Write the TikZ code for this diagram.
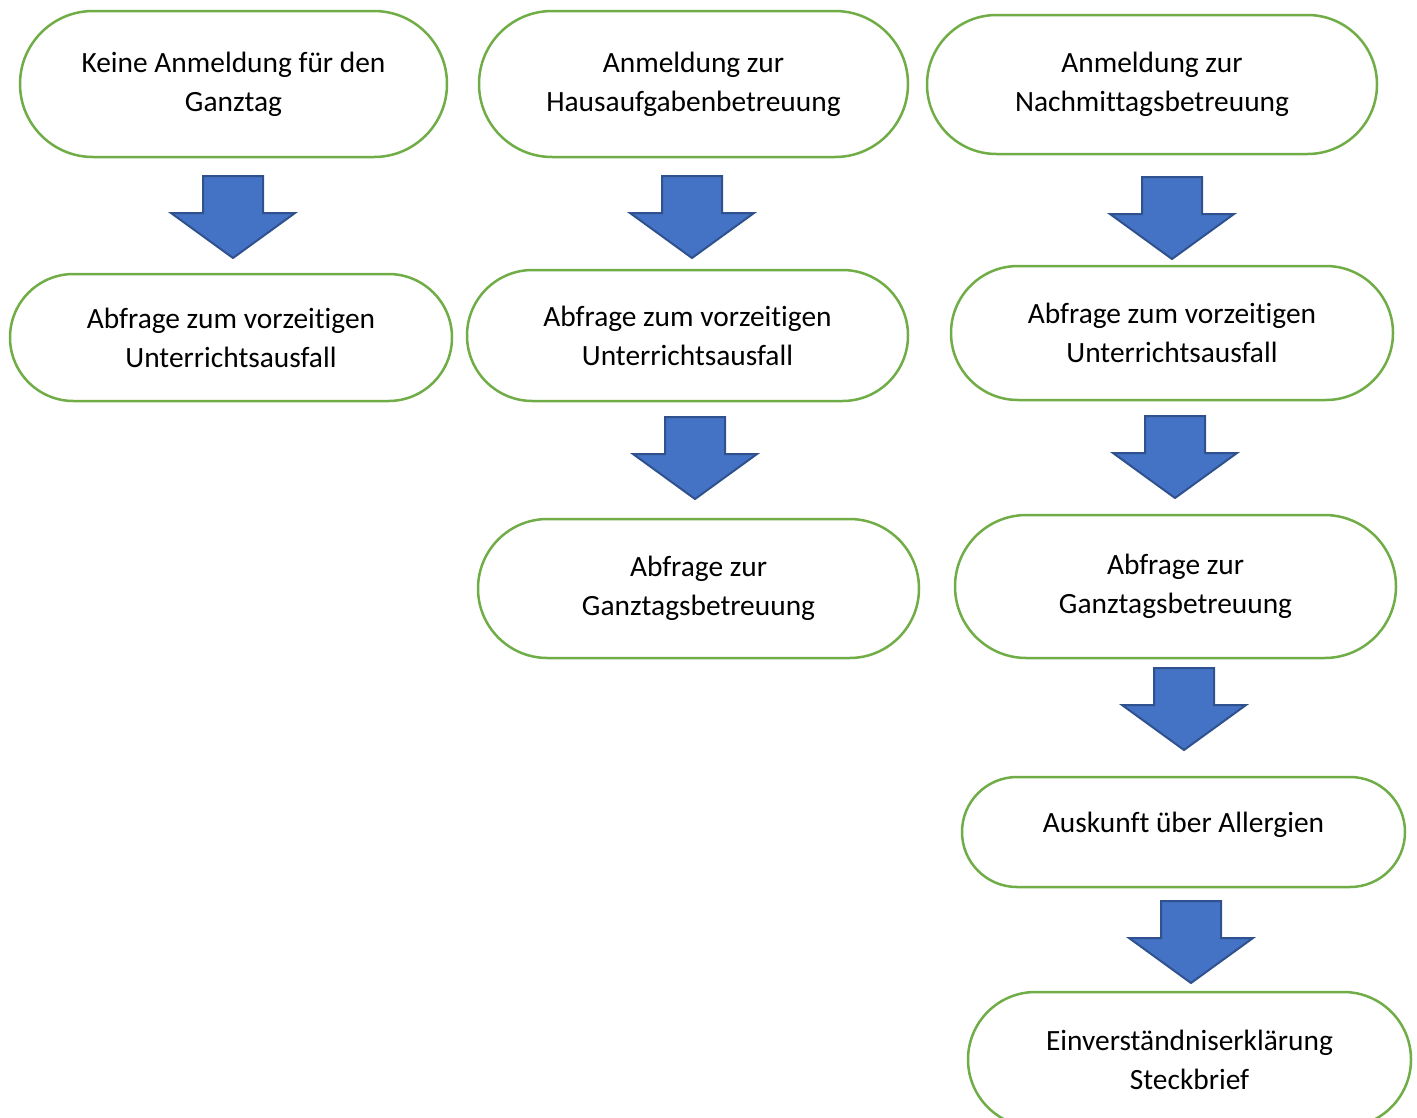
\documentclass[tikz,border=0pt]{standalone}
\usepackage{fontspec}
\setmainfont{Carlito}[RawFeature=-liga]
\usetikzlibrary{shapes.misc}
\definecolor{boxgreen}{HTML}{70AD47}
\definecolor{arrfill}{HTML}{4472C4}
\definecolor{arrline}{HTML}{2F528F}
\tikzset{
  pill/.style={rounded rectangle, draw=boxgreen, line width=2.5pt, fill=white,
    inner sep=0pt, align=center, font=\fontsize{29.4}{39}\selectfont},
  blockarrow/.style={fill=arrfill, draw=arrline, line width=2pt, line join=miter},
  pics/downarrow/.style={code={
    \path[blockarrow] (-30,0) -- (30,0) -- (30,37) -- (62,37) -- (0,82) -- (-62,37) -- (-30,37) -- cycle;
  }}
}
\begin{document}
\begin{tikzpicture}[x=1pt,y=-1pt]
\useasboundingbox (0,0) rectangle (1417,1117);
% column 1
\node[pill, minimum width=427pt, minimum height=146pt] (a1) at (233.5,84) {Keine Anmeldung für den\\Ganztag};
\node[pill, minimum width=442pt, minimum height=127pt] (a2) at (231,337.5) {Abfrage zum vorzeitigen\\Unterrichtsausfall};
% column 2
\node[pill, minimum width=429pt, minimum height=146pt] (b1) at (693.5,84) {Anmeldung zur\\Hausaufgabenbetreuung};
\node[pill, minimum width=441pt, minimum height=131pt] (b2) at (687.5,335.5) {Abfrage zum vorzeitigen\\Unterrichtsausfall};
\node[pill, minimum width=441pt, minimum height=139pt] (b3) at (698.5,588.5) {Abfrage zur\\Ganztagsbetreuung};
% column 3
\node[pill, minimum width=450pt, minimum height=139pt] (c1) at (1152,84.5) {Anmeldung zur\\Nachmittagsbetreuung};
\node[pill, minimum width=442pt, minimum height=134pt] (c2) at (1172,333) {Abfrage zum vorzeitigen\\Unterrichtsausfall};
\node[pill, minimum width=441pt, minimum height=143pt] (c3) at (1175.5,586.5) {Abfrage zur\\Ganztagsbetreuung};
\node[pill, minimum width=443pt, minimum height=110pt, text height=12pt, text depth=12pt] (c4) at (1183.5,832) {Auskunft über Allergien};
\node[pill, minimum width=443pt, minimum height=135pt] (c5) at (1189.5,1059.5) {Einverständniserklärung\\Steckbrief};
% arrows
\pic at (233,176) {downarrow};
\pic at (692,176) {downarrow};
\pic at (1172,177) {downarrow};
\pic at (695,417) {downarrow};
\pic at (1175,416) {downarrow};
\pic at (1184,668) {downarrow};
\pic at (1191,901) {downarrow};
\end{tikzpicture}
\end{document}
